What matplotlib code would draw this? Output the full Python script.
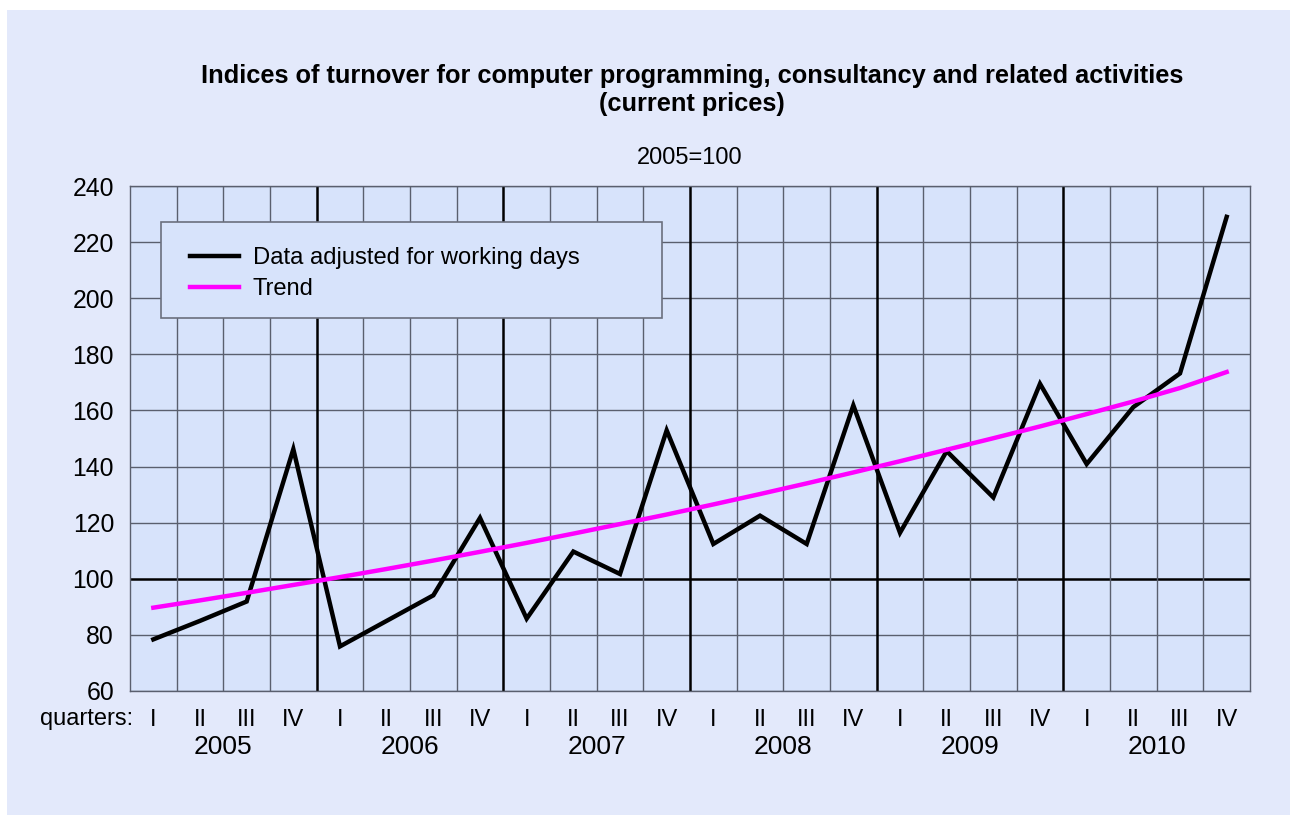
import matplotlib
matplotlib.use("Agg")
import matplotlib.pyplot as plt
from matplotlib.patches import Rectangle
from matplotlib.lines import Line2D

plt.rcParams['font.family'] = ['Liberation Sans', 'DejaVu Sans']

# ---- data ----
years = ["2005", "2006", "2007", "2008", "2009", "2010"]
quarter_labels = ["I", "II", "III", "IV"]
data_adjusted = [78.4, 85.0, 91.9, 146.2,
                 75.9, 85.0, 94.1, 121.7,
                 85.8, 109.7, 101.7, 152.9,
                 112.4, 122.5, 112.4, 161.8,
                 116.4, 145.5, 129.0, 169.5,
                 140.9, 161.2, 173.2, 229.0]
trend = [89.7, 92.3, 95.0, 97.8,
         100.6, 103.5, 106.5, 109.6,
         112.8, 116.1, 119.5, 122.9,
         126.5, 130.2, 134.0, 137.9,
         141.9, 146.0, 150.1, 154.3,
         158.7, 163.2, 168.0, 173.7]
yticks = [60, 80, 100, 120, 140, 160, 180, 200, 220, 240]

W, H = 1297, 819
fig = plt.figure(figsize=(W / 100, H / 100), dpi=100)
fig.patch.set_facecolor("white")
bg = Rectangle((7 / W, 1 - 815 / H), (1290 - 7) / W, (815 - 10) / H,
               transform=fig.transFigure, facecolor="#e3e9fb", edgecolor="none", zorder=-10)
fig.patches.append(bg)

L, R, T, B = 130, 1250, 186, 691
ax = fig.add_axes([L / W, 1 - B / H, (R - L) / W, (B - T) / H])
ax.set_facecolor("#d7e3fb")

n = len(data_adjusted)
x = list(range(n))
ax.set_xlim(-0.5, n - 0.5)
ax.set_ylim(60, 240)

grid_c = "#5a5f6e"
# horizontal grid
for yv in yticks:
    if yv == 100:
        ax.axhline(yv, color="black", lw=1.8, zorder=1)
    else:
        ax.axhline(yv, color=grid_c, lw=1.0, zorder=1)
# vertical grid
for k in range(n - 1):
    b = k + 0.5
    if (k + 1) % 4 == 0:
        ax.axvline(b, color="black", lw=1.8, zorder=1)
    else:
        ax.axvline(b, color=grid_c, lw=1.0, zorder=1)

ax.plot(x, data_adjusted, color="black", lw=3.2, zorder=4, solid_joinstyle="miter")
ax.plot(x, trend, color="#ff00ff", lw=3.2, zorder=5)

for s in ax.spines.values():
    s.set_color(grid_c)
    s.set_linewidth(1.0)

ax.set_yticks(yticks)
ax.set_yticklabels([str(v) for v in yticks], fontsize=17.8)
ax.tick_params(axis="y", length=0, pad=11.5)
ax.set_xticks(x)
ax.set_xticklabels(quarter_labels * len(years), fontsize=17)
ax.tick_params(axis="x", length=0, pad=13)

for i, yr in enumerate(years):
    ax.annotate(yr, xy=(4 * i + 1.5, 0), xycoords=("data", "axes fraction"),
                xytext=(0, -56), textcoords="offset pixels",
                ha="center", va="center", fontsize=19)

fig.text(133 / W, 1 - 719 / H, "quarters:", ha="right", va="center", fontsize=17)

# legend box
ax.add_patch(Rectangle(((161 - L) / (R - L), (B - 318) / (B - T)),
                       (662 - 161) / (R - L), (318 - 222) / (B - T),
                       transform=ax.transAxes, facecolor="#d7e3fb", edgecolor="#6a6f7e",
                       lw=1.2, zorder=6))
handles = [Line2D([], [], color="black", lw=3.2), Line2D([], [], color="#ff00ff", lw=3.2)]
leg = ax.legend(handles, ["Data adjusted for working days", "Trend"],
                loc="upper left",
                bbox_to_anchor=((190 - L) / (R - L), (B - 247) / (B - T)),
                frameon=False, fontsize=17.1, handlelength=2.05, handletextpad=0.6,
                labelspacing=0.38, borderaxespad=0, borderpad=0)
leg.set_zorder(7)

fig.text(692 / W, 1 - 90 / H,
         "Indices of turnover for computer programming, consultancy and related activities\n(current prices)",
         ha="center", va="center", fontsize=18.3, fontweight="bold", linespacing=1.22)
fig.text(690 / W, 1 - 158 / H, "2005=100", ha="center", va="center", fontsize=17)

fig.savefig("out.png", dpi=100)
